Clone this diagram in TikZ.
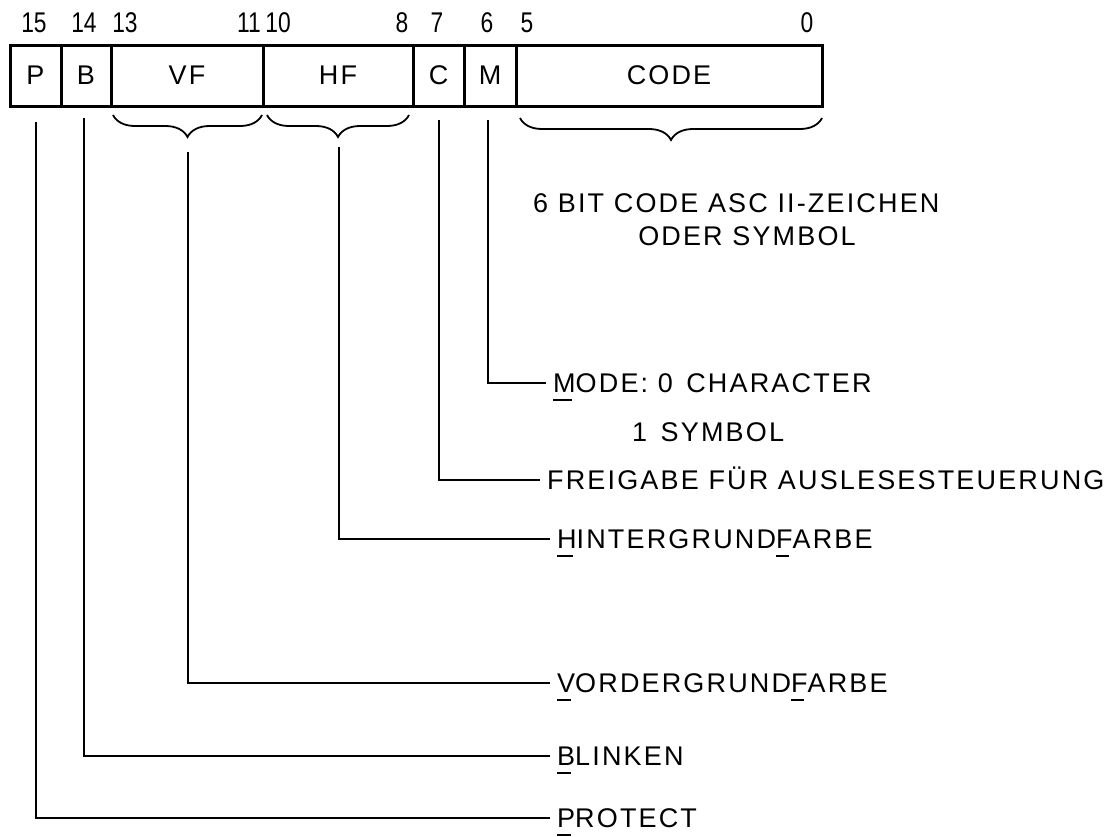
\documentclass[tikz,border=0pt]{standalone}
\usepackage{fontspec}
\setmainfont{Liberation Sans}[LetterSpace=8]
\newfontfamily\digitfont{Liberation Sans}[FakeStretch=0.8]
\usetikzlibrary{decorations.pathreplacing}

\newsavebox\ubox
\newcommand\ubar[1]{\sbox\ubox{#1}\rlap{\rule[-8pt]{\dimexpr\wd\ubox-4pt\relax}{2pt}}\usebox\ubox}

\tikzset{
  field/.style={draw, line width=3pt, minimum height=61pt, inner sep=0pt,
    font=\fontsize{27}{32}\selectfont},
  bitno/.style={inner sep=0pt, font=\digitfont\fontsize{28.5}{32}\selectfont},
  lab/.style={anchor=west, inner xsep=7pt, inner ysep=0pt, text height=19pt,
    text depth=0pt, font=\fontsize{27}{32}\selectfont},
  wire/.style={line width=1.8pt},
  brc/.style={decorate, decoration={brace, mirror, amplitude=22pt}, line width=1.8pt}
}

\begin{document}
\begin{tikzpicture}[x=1pt, y=-1pt]
\path[use as bounding box] (0,0) rectangle (1113,836);
\node[field, minimum width=51pt] (P) at (35.5,75.5) {P};
\node[field, minimum width=50pt] (B) at (86,75.5) {B};
\node[field, minimum width=152pt] (VF) at (187,75.5) {VF};
\node[field, minimum width=150pt] (HF) at (338,75.5) {HF};
\node[field, minimum width=51pt] (C) at (438.5,75.5) {C};
\node[field, minimum width=52pt] (M) at (490,75.5) {M};
\node[field, minimum width=306pt] (CODE) at (669,75.5) {CODE};
\node[bitno] (b15) at (34,23) {15};
\node[bitno] (b14) at (84,23) {14};
\node[bitno] (b13) at (125,23) {13};
\node[bitno] (b11) at (249,23) {11};
\node[bitno] (b10) at (278,23) {10};
\node[bitno] (b8) at (402,23) {8};
\node[bitno] (b7) at (437,23) {7};
\node[bitno] (b6) at (487,23) {6};
\node[bitno] (b5) at (527,23) {5};
\node[bitno] (b0) at (807,23) {0};
\draw[brc] (113,115) -- (262,115);
\draw[brc] (267,115) -- (409,115);
\draw[brc] (520,118) -- (822,118);
\coordinate (pP) at (36,122);
\coordinate (pB) at (84,118);
\coordinate (pVF) at (188,152);
\coordinate (pHF) at (339,147);
\coordinate (pC) at (439,120);
\coordinate (pM) at (488,120);
\node[lab, anchor=west] (codeA) at (526,203) {6 BIT CODE ASC II-ZEICHEN};
\node[lab, anchor=center] (codeB) at (747,236) {ODER SYMBOL};
\node[lab] (lM) at (546,383) {\ubar{M}ODE: 0\enspace CHARACTER};
\node[lab] (lM2) at (625,432) {1\enspace SYMBOL};
\node[lab] (lC) at (540,480) {FREIGABE FÜR AUSLESESTEUERUNG};
\node[lab] (lHF) at (550,539) {\ubar{H}INTERGRUND\ubar{F}ARBE};
\node[lab] (lVF) at (550,683) {\ubar{V}ORDERGRUND\ubar{F}ARBE};
\node[lab] (lB) at (550,756) {\ubar{B}LINKEN};
\node[lab] (lP) at (550,818) {\ubar{P}ROTECT};
\draw[wire] (pM) |- (lM.west);
\draw[wire] (pC) |- (lC.west);
\draw[wire] (pHF) |- (lHF.west);
\draw[wire] (pVF) |- (lVF.west);
\draw[wire] (pB) |- (lB.west);
\draw[wire] (pP) |- (lP.west);
\end{tikzpicture}
\end{document}
